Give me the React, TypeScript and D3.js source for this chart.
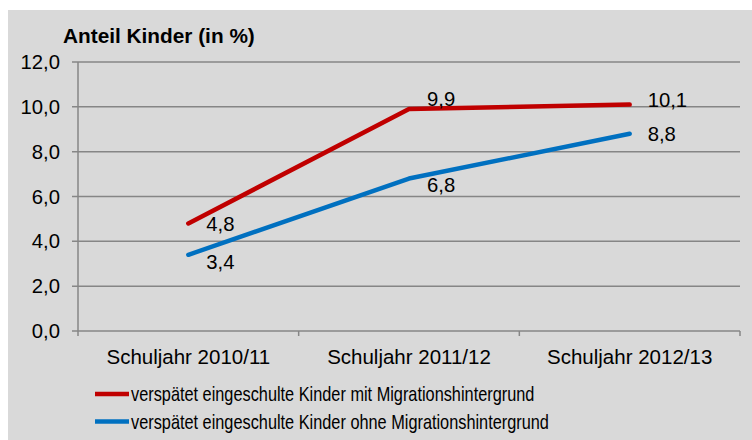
import React from "react";
import * as d3 from "d3";

const categories = ["Schuljahr 2010/11", "Schuljahr 2011/12", "Schuljahr 2012/13"];
const seriesNames = [
  "verspätet eingeschulte Kinder mit Migrationshintergrund",
  "verspätet eingeschulte Kinder ohne Migrationshintergrund",
];
const withMigration = [4.8, 9.9, 10.1];
const withoutMigration = [3.4, 6.8, 8.8];
const yTicks = [0, 2, 4, 6, 8, 10, 12];
const yTitle = "Anteil Kinder (in %)";

// styling
const colors = ["#c00000", "#0070c0"];
const labelDy = [
  [0, -10, -5],
  [7, 6, 0],
];

const W = 752;
const H = 440;
const M = { left: 78, right: 740, top: 62, bottom: 331 };
const FONT = "'Liberation Sans', Arial, sans-serif";

export default function App() {
  const x = d3.scaleBand<string>().domain(categories).range([M.left, M.right]);
  const y = d3.scaleLinear().domain([0, 12]).range([M.bottom, M.top]);
  const fmt = (v: number) => v.toFixed(1).replace(".", ",");
  const line = d3
    .line<number>()
    .x((_, i) => (x(categories[i]) as number) + x.bandwidth() / 2)
    .y((d) => y(d));
  const series = [withMigration, withoutMigration];

  return (
    <svg
      width={W}
      height={H}
      style={{ position: "absolute", left: 0, top: 0 }}
      fontFamily={FONT}
    >
      <rect x={8} y={10} width={W - 8} height={H - 10} fill="#d9d9d9" />
      <text x={63} y={43} fontSize={20.8} fontWeight="bold" fill="#000">
        {yTitle}
      </text>
      {yTicks.map((t) => (
        <g key={t}>
          <line
            x1={M.left - 6}
            x2={M.right}
            y1={y(t)}
            y2={y(t)}
            stroke="#868686"
            strokeWidth={1.5}
          />
          <text
            x={60}
            y={y(t)}
            dy="0.35em"
            textAnchor="end"
            fontSize={20.3}
            fill="#000"
          >
            {fmt(t)}
          </text>
        </g>
      ))}
      <line x1={M.left} x2={M.left} y1={M.top} y2={M.bottom + 5} stroke="#868686" strokeWidth={1.5} />
      {categories.map((c, i) => (
        <g key={c}>
          <line
            x1={(x(c) as number) + x.bandwidth()}
            x2={(x(c) as number) + x.bandwidth()}
            y1={M.bottom}
            y2={M.bottom + 5}
            stroke="#868686"
            strokeWidth={1.5}
          />
          <text
            x={(x(c) as number) + x.bandwidth() / 2}
            y={364}
            textAnchor="middle"
            fontSize={20.5}
            fill="#000"
          >
            {c}
          </text>
        </g>
      ))}
      {series.map((s, si) => (
        <g key={si}>
          <path d={line(s) as string} fill="none" stroke={colors[si]} strokeWidth={4.5} strokeLinecap="round" strokeLinejoin="round" />
          {s.map((v, i) => (
            <text
              key={i}
              x={(x(categories[i]) as number) + x.bandwidth() / 2 + 18}
              y={y(v) + labelDy[si][i]}
              dy="0.35em"
              fontSize={20.3}
              fill="#000"
            >
              {fmt(v)}
            </text>
          ))}
        </g>
      ))}
      {seriesNames.map((n, i) => (
        <g key={n} transform={`translate(0, ${394 + i * 27.5})`}>
          <line x1={95} x2={129} y1={0} y2={0} stroke={colors[i]} strokeWidth={4.5} />
          <g transform="translate(131,0) scale(0.796,1)">
            <text x={0} y={0} dy="0.35em" fontSize={20.5} fill="#000">
              {n}
            </text>
          </g>
        </g>
      ))}
    </svg>
  );
}
